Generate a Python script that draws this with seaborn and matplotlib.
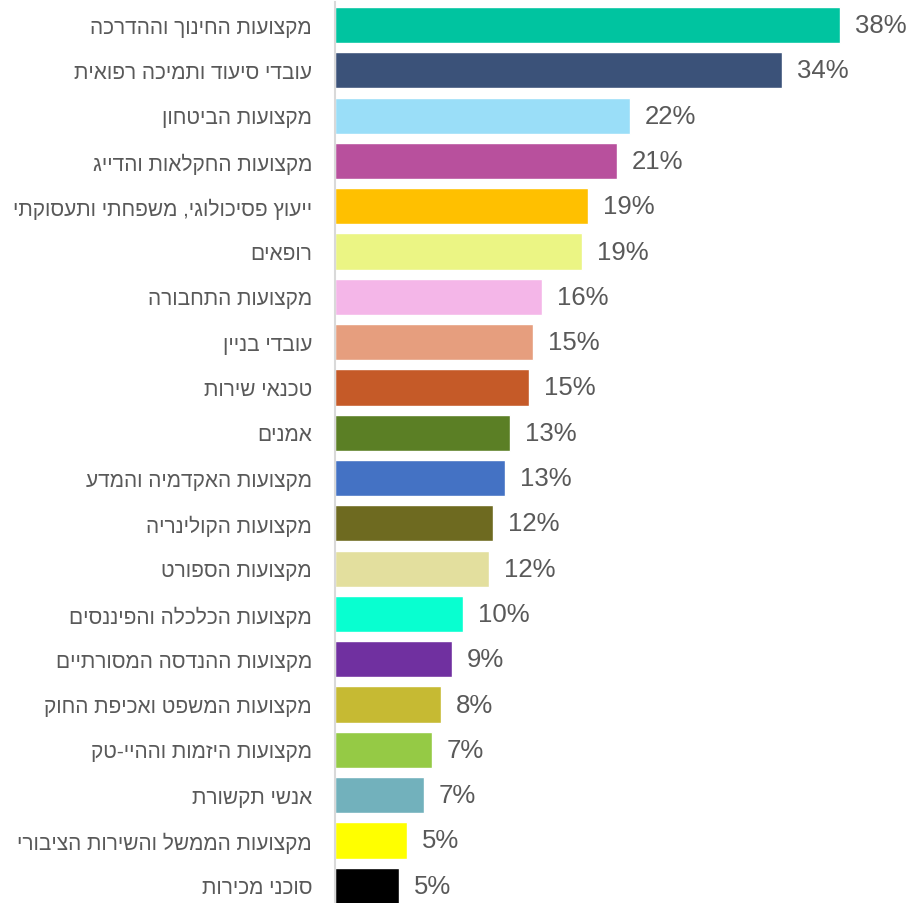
import matplotlib
matplotlib.use("Agg")
import matplotlib.pyplot as plt
import seaborn as sns
import pandas as pd

categories = [
    "מקצועות החינוך וההדרכה",
    "עובדי סיעוד ותמיכה רפואית",
    "מקצועות הביטחון",
    "מקצועות החקלאות והדייג",
    "ייעוץ פסיכולוגי, משפחתי ותעסוקתי",
    "רופאים",
    "מקצועות התחבורה",
    "עובדי בניין",
    "טכנאי שירות",
    "אמנים",
    "מקצועות האקדמיה והמדע",
    "מקצועות הקולינריה",
    "מקצועות הספורט",
    "מקצועות הכלכלה והפיננסים",
    "מקצועות ההנדסה המסורתיים",
    "מקצועות המשפט ואכיפת החוק",
    "מקצועות היזמות וההיי-טק",
    "אנשי תקשורת",
    "מקצועות הממשל והשירות הציבורי",
    "סוכני מכירות",
]
values = [38.0, 33.6, 22.2, 21.2, 19.0, 18.6, 15.6, 14.9, 14.6, 13.2,
          12.8, 11.9, 11.6, 9.6, 8.8, 8.0, 7.3, 6.7, 5.4, 4.8]
colors = ["#00C4A0", "#3B5279", "#9ADEF8", "#B8509D", "#FFC000", "#EBF584",
          "#F4B6E8", "#E69E7E", "#C55A28", "#5B7F25", "#4472C4", "#6E6A20",
          "#E3DF9E", "#08FFD0", "#7030A0", "#C6BA33", "#95CA45", "#72B1BC",
          "#FFFF00", "#000000"]

def vis(s):
    # matplotlib has no bidi support: reverse logical order for display
    return s[::-1]

df = pd.DataFrame({"cat": categories, "val": values})

sns.set_theme(style="white")
plt.rcParams['font.family'] = ['Liberation Sans', 'DejaVu Sans']

fig = plt.figure(figsize=(9.07, 9.04), dpi=100)
ax = fig.add_axes([335/907, 0, 1 - 335/907, 1 - 3.4/904])

sns.barplot(data=df, y="cat", x="val", hue="cat", palette=colors,
            orient="h", dodge=False, legend=False, width=0.8,
            saturation=1, ax=ax)

ax.set_xlim(0, (907 - 335) / 13.29)
ax.set_ylim(19.38, -0.5)
ax.set_xlabel("")
ax.set_ylabel("")
ax.set_xticks([])
ax.set_yticks(range(len(categories)))
ax.set_yticklabels([vis(c) for c in categories], fontsize=15, color="#595959")
ax.tick_params(axis="y", length=0, pad=16.5)
for s in ["top", "right", "bottom"]:
    ax.spines[s].set_visible(False)
ax.spines["left"].set_color("#D9D9D9")
ax.spines["left"].set_linewidth(1.5)

for i, v in enumerate(values):
    ax.text(v + 15 / 13.29, i, f"{round(v)}%", va="center", ha="left",
            fontsize=18.5, color="#595959")

fig.savefig("out.png", dpi=100)
